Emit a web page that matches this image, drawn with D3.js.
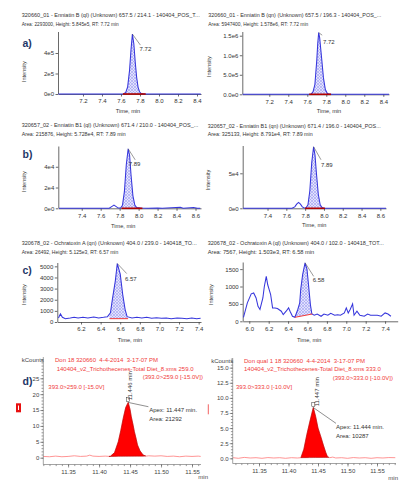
<!DOCTYPE html>
<html>
<head>
<meta charset="utf-8">
<script src="https://cdn.jsdelivr.net/npm/d3@7"></script>
<style>
  body { margin: 0; background: #fff; }
  svg { display: block; font-family: "Liberation Sans", Arial, sans-serif; }
</style>
</head>
<body>
<div id="chart"></div>
<script>
// ---- data: [time (min), intensity] ----
const enniatinB_ql = [[6.94,0],[7.2,0],[7.5,0],[7.61,0],[7.63,2e3],[7.65,1.5e4],[7.67,7e4],[7.69,2.3e5],[7.705,4.3e5],[7.72,5.845e5],[7.735,4.9e5],[7.75,3.1e5],[7.765,1.6e5],[7.78,6.5e4],[7.795,2.2e4],[7.81,6e3],[7.83,1.5e3],[7.86,0],[8.44,0]]
const enniatinB_qn = [[6.92,0],[7.2,0],[7.5,0],[7.62,0],[7.64,8e3],[7.66,6e4],[7.68,2.5e5],[7.70,8.8e5],[7.71,1.3e6],[7.72,1.578e6],[7.73,1.45e6],[7.75,9.5e5],[7.77,4.2e5],[7.79,1.2e5],[7.81,2.5e4],[7.83,4e3],[7.86,0],[8.46,0]]
const enniatinB1_ql = [[7.16,0],[7.4,0],[7.6,0],[7.69,0],[7.72,1.8e3],[7.74,3e3],[7.76,1.8e3],[7.785,200],[7.81,300],[7.83,3e3],[7.85,1.6e4],[7.87,4.2e4],[7.89,5.728e4],[7.905,5.1e4],[7.92,3.2e4],[7.94,1.2e4],[7.96,3e3],[7.98,800],[8.02,200],[8.1,0],[8.2,300],[8.25,0],[8.44,1e3],[8.47,0],[8.58,800],[8.62,0],[8.65,0]]
const enniatinB1_qn = [[7.14,0],[7.4,0],[7.6,0],[7.66,0],[7.69,2e3],[7.71,6e3],[7.73,8.5e3],[7.75,6e3],[7.77,2e3],[7.79,500],[7.81,800],[7.83,5e3],[7.85,2.5e4],[7.87,6.5e4],[7.89,8.791e4],[7.905,7.6e4],[7.92,5e4],[7.94,2e4],[7.96,5e3],[7.98,1e3],[8.0,200],[8.1,0],[8.66,0]]
const ochratoxinA_qn = [[5.97,360],[5.99,730],[6.01,420],[6.04,300],[6.09,360],[6.13,420],[6.17,360],[6.22,420],[6.27,360],[6.33,450],[6.38,360],[6.43,420],[6.47,480],[6.50,820],[6.52,2030],[6.55,3700],[6.57,5250],[6.60,4300],[6.625,2480],[6.65,1120],[6.67,480],[6.72,360],[6.77,420],[6.82,360],[6.87,420],[6.92,330],[6.97,390],[7.02,330],[7.07,360],[7.12,300],[7.18,360],[7.23,330],[7.28,300],[7.33,360],[7.38,300],[7.42,330]]
const ochratoxinA_ql = [[5.94,115],[5.98,530],[6.02,790],[6.045,815],[6.07,670],[6.09,430],[6.11,340],[6.14,670],[6.155,1000],[6.175,1290],[6.19,1050],[6.205,910],[6.22,770],[6.24,385],[6.265,385],[6.29,365],[6.33,290],[6.35,190],[6.38,290],[6.405,385],[6.42,290],[6.445,145],[6.47,115],[6.50,340],[6.52,530],[6.53,910],[6.55,1340],[6.575,1680],[6.595,1490],[6.61,1060],[6.63,480],[6.645,210],[6.67,175],[6.70,210],[6.74,145],[6.77,210],[6.81,175],[6.84,230],[6.88,175],[6.91,190],[6.94,175],[6.98,240],[7.0,385],[7.02,240],[7.04,340],[7.065,500],[7.08,175],[7.11,290],[7.14,175],[7.185,145],[7.22,210],[7.25,175],[7.29,175],[7.32,175],[7.36,145],[7.40,240],[7.43,210],[7.46,145]]
const don259 = [[11.31,0.4],[11.32,0.3],[11.33,0.5],[11.34,0.3],[11.35,0.4],[11.36,0.6],[11.37,0.4],[11.38,0.5],[11.385,0.8],[11.39,0.5],[11.40,0.4],[11.41,0.5],[11.418,0.4],[11.425,1.6],[11.431,5.0],[11.435,8.5],[11.439,12.4],[11.443,15.8],[11.447,17.4],[11.450,15.2],[11.452,12.9],[11.455,10.2],[11.457,8.2],[11.460,5.8],[11.462,4.0],[11.466,2.2],[11.471,0.85],[11.476,0.5],[11.48,0.6],[11.49,0.5],[11.50,0.6],[11.51,0.4],[11.52,0.5],[11.53,0.3],[11.54,0.5],[11.55,0.4],[11.56,0.5],[11.564,0.4]]
const don333 = [[11.306,0.1],[11.315,0.0],[11.325,0.15],[11.335,0.05],[11.345,0.1],[11.355,0.0],[11.365,0.12],[11.375,0.05],[11.385,0.1],[11.395,0.0],[11.405,0.1],[11.415,0.05],[11.421,0.1],[11.426,1.5],[11.431,3.9],[11.436,6.0],[11.442,8.4],[11.446,6.9],[11.45,5.0],[11.455,3.5],[11.459,2.2],[11.463,1.0],[11.466,0.27],[11.47,0.1],[11.475,0.2],[11.48,0.05],[11.49,0.1],[11.5,0.0],[11.51,0.12],[11.52,0.05],[11.53,0.1],[11.54,0.0],[11.55,0.1],[11.56,0.05],[11.57,0.12],[11.581,0.1]]

// integration windows: [[start, baseline], [end, baseline]]
const integA1 = [[7.62,0],[7.86,0]]
const integA2 = [[7.62,0],[7.85,0]]
const integB1 = [[7.82,0],[8.04,0]]
const integB2 = [[7.80,0],[8.01,0]]
const integC1 = [[6.49,300],[6.68,300]]
const integC2 = [[6.47,115],[6.65,210]]
const integD1 = [[11.416,0.4],[11.475,0.5]]
const integD2 = [[11.421,0.1],[11.468,0.15]]

// tick values and labels
const ticksA = [7.2,7.4,7.6,7.8,8.0,8.2,8.4]
const ticksB = [7.4,7.6,7.8,8.0,8.2,8.4,8.6]
const ticksC1 = [6.2,6.4,6.6,6.8,7.0,7.2,7.4]
const ticksC2 = [6.0,6.2,6.4,6.6,6.8,7.0,7.2,7.4]
const ticksD = [11.35,11.40,11.45,11.50,11.55]
const yA1 = [0,2e5,4e5], yA1Labels = ["0e0","2e5","4e5"]
const yA2 = [0,5e5,1e6,1.5e6], yA2Labels = ["0.0e0","5.0e5","1.0e6","1.5e6"]
const yB1 = [0,2e4,4e4], yB1Labels = ["0e0","2e4","4e4"]
const yB2 = [0,5e4], yB2Labels = ["0e0","5e4"]
const yC1 = [0,1000,2000,3000,4000,5000], yC1Labels = ["0","1000","2000","3000","4000","5000"]
const yC2 = [0,500,1000,1500], yC2Labels = ["0","500","1000","1500"]
const yD1 = [0,5,10,15,20,25]
const yD2 = [0,2.5,5,7.5,10,12.5,15]

// header texts
const titleA1 = ["320660_01 - Enniatin B (ql) (Unknown) 657.5 / 214.1 - 140404_POS_T...", "Area: 2293000, Height: 5.845e5, RT: 7.72 min"]
const titleA2 = ["320660_01 - Enniatin B (qn) (Unknown) 657.5 / 196.3 - 140404_POS_...", "Area: 5947400, Height: 1.578e6, RT: 7.72 min"]
const titleB1 = ["320657_02 - Enniatin B1 (ql) (Unknown) 671.4 / 210.0 - 140404_POS_...", "Area: 215876, Height: 5.728e4, RT: 7.89 min"]
const titleB2 = ["320657_02 - Enniatin B1 (qn) (Unknown) 671.4 / 196.0 - 140404_POS...", "Area: 325133, Height: 8.791e4, RT: 7.89 min"]
const titleC1 = ["320678_02 - Ochratoxin A (qn) (Unknown) 404.0 / 239.0 - 140418_TO...", "Area: 26492, Height: 5.125e3, RT: 6.57 min"]
const titleC2 = ["320678_02 - Ochratoxin A (ql) (Unknown) 404.0 / 102.0 - 140418_TOT...", "Area: 7567, Height: 1.503e3, RT: 6.58 min"]
const headD1 = ["Don 18 320660  4-4-2014  3-17-07 PM", "140404_v2_Trichothecenes-Total Diet_8.xms 259.0", "(393.0>259.0 [-15.0V])", "393.0>259.0 [-15.0V]"]
const headD2 = ["Don qual 1 18 320660  4-4-2014  3-17-07 PM", "140404_v2_Trichothecenes-Total Diet_8.xms 333.0", "(393.0>333.0 [-10.0V])", "393.0>333.0 [-10.0V]"]
const apexD1 = ["11.446 min", "Apex: 11.447 min.", "Area: 21292"]
const apexD2 = ["11.447 min", "Apex: 11.444 min.", "Area: 10287"]

const svg = d3.select("#chart").append("svg").attr("width", 402).attr("height", 482)

// light cross-hatch used by the integrated peaks
const defs = svg.append("defs")
const hatch = defs.append("pattern").attr("id", "hatch").attr("patternUnits", "userSpaceOnUse")
  .attr("width", 3).attr("height", 3)
hatch.append("rect").attr("width", 3).attr("height", 3).attr("fill", "#e2e2fc")
hatch.append("path").attr("d", "M0,0L3,3M3,0L0,3").attr("stroke", "#9d9df2").attr("stroke-width", 0.6)

function letter(t, y) {
  svg.append("text").attr("x", 22.5).attr("y", y).attr("font-size", 10.5).attr("font-weight", "bold")
    .attr("fill", "#1f3768").text(t)
}

// chromatograms a) - c)
function chrom(p) {
  const [l, r, t, b] = p.box
  const x = d3.scaleLinear().domain(p.xDomain).range([l, r])
  const y = d3.scaleLinear().domain([0, p.yMax]).range([b, t])
  const g = svg.append("g")

  p.title.forEach((s, i) => g.append("text")
    .attr("x", p.tpos[0]).attr("y", p.tpos[1] + i * 8.8)
    .attr("textLength", p.tlen[i]).attr("lengthAdjust", "spacingAndGlyphs")
    .attr("font-size", 5.6).attr("fill", "#333").text(s))

  g.append("text").attr("transform", `translate(${p.ipos[0]},${p.ipos[1]}) rotate(-90)`)
    .attr("text-anchor", "middle").attr("font-size", 5.6).attr("fill", "#333").text("Intensity")
  g.append("text").attr("x", p.mpos[0]).attr("y", p.mpos[1])
    .attr("text-anchor", "middle").attr("font-size", 5.6).attr("fill", "#333").text("Time, min")

  // integrated area
  const [[t0, b0], [t1, b1]] = p.integ
  const base = d3.scaleLinear().domain([t0, t1]).range([b0, b1])
  const at = d3.scaleLinear().domain(p.data.map(d => d[0])).range(p.data.map(d => d[1]))
  const seg = [[t0, at(t0)], ...p.data.filter(d => d[0] > t0 && d[0] < t1), [t1, at(t1)]]
  g.append("path").datum(seg).attr("fill", "url(#hatch)")
    .attr("d", d3.area().x(d => x(d[0])).y0(d => y(base(d[0]))).y1(d => y(Math.max(d[1], base(d[0])))))

  const xa = g.append("g").attr("transform", `translate(0,${b})`)
    .call(d3.axisBottom(x).tickValues(p.xTicks).tickFormat(d3.format(".1f"))
      .tickSize(2.5).tickSizeOuter(0).tickPadding(2.5))
  const ya = g.append("g").attr("transform", `translate(${l},0)`)
    .call(d3.axisLeft(y).tickValues(p.yTicks).tickFormat((d, i) => p.yLabels[i])
      .tickSize(2.5).tickSizeOuter(0).tickPadding(1.5))
  ;[xa, ya].forEach(a => {
    a.attr("font-size", 6).attr("font-family", null)
    a.selectAll("text").attr("fill", "#333")
    a.selectAll(".domain, .tick line").attr("stroke", "#444").attr("stroke-width", 0.8)
  })
  ya.select(".domain").attr("d", `M0.5,${t}V${b}`)

  g.append("path").datum(p.data).attr("fill", "none").attr("stroke", "#3636dc").attr("stroke-width", 1.05)
    .attr("d", d3.line().x(d => x(d[0])).y(d => y(d[1])))

  g.append("line").attr("x1", x(t0)).attr("y1", y(b0)).attr("x2", x(t1)).attr("y2", y(b1))
    .attr("stroke", p.baseColor).attr("stroke-width", p.baseWidth)

  // apex label with leader
  const apex = p.data.reduce((m, d) => d[1] > m[1] ? d : m)
  const ax = x(apex[0]), ay = y(apex[1])
  g.append("line").attr("x1", ax).attr("y1", ay).attr("x2", ax + p.lab[2]).attr("y2", ay + p.lab[3])
    .attr("stroke", "#555").attr("stroke-width", 0.6)
  g.append("text").attr("x", ax + p.lab[0]).attr("y", ay + p.lab[1])
    .attr("font-size", 6).attr("fill", "#333").text(p.rt)
}

chrom({ data: enniatinB_ql, integ: integA1, box: [58, 201, 32, 94], xDomain: [6.937, 8.442], yMax: 6.05e5,
  xTicks: ticksA, yTicks: yA1, yLabels: yA1Labels, title: titleA1, tpos: [21.7, 17], tlen: [178, 97],
  ipos: [26, 71.7], mpos: [128, 113], rt: "7.72", lab: [7.2, 17, 8, 11], baseColor: "#b00000", baseWidth: 1.6 })
chrom({ data: enniatinB_qn, integ: integA2, box: [242.3, 389, 32, 94.3], xDomain: [6.916, 8.46], yMax: 1.595e6,
  xTicks: ticksA, yTicks: yA2, yLabels: yA2Labels, title: titleA2, tpos: [208.3, 17], tlen: [173, 100],
  ipos: [211, 66.7], mpos: [329, 113], rt: "7.72", lab: [4.2, 11, 3.5, 2.5], baseColor: "#b00000", baseWidth: 1.6 })
chrom({ data: enniatinB1_ql, integ: integB1, box: [58.3, 201, 146.5, 208.3], xDomain: [7.153, 8.658], yMax: 5.95e4,
  xTicks: ticksB, yTicks: yB1, yLabels: yB1Labels, title: titleB1, tpos: [21.7, 127], tlen: [176.6, 104],
  ipos: [26, 181.7], mpos: [123.3, 227.5], rt: "7.89", lab: [0.5, 17.2, 7, 11], baseColor: "#b00000", baseWidth: 1.6 })
chrom({ data: enniatinB1_qn, integ: integB2, box: [242.7, 386, 146, 208.3], xDomain: [7.136, 8.66], yMax: 8.9e4,
  xTicks: ticksB, yTicks: yB2, yLabels: yB2Labels, title: titleB2, tpos: [207.7, 127.5], tlen: [173, 105],
  ipos: [209.5, 180], mpos: [314.3, 227], rt: "7.89", lab: [7.4, 20, 7.4, 13], baseColor: "#b00000", baseWidth: 1.6 })
chrom({ data: ochratoxinA_qn, integ: integC1, box: [57.3, 201, 263, 322], xDomain: [5.958, 7.424], yMax: 5300,
  xTicks: ticksC1, yTicks: yC1, yLabels: yC1Labels, title: titleC1, tpos: [21.7, 245], tlen: [175, 96.6],
  ipos: [26, 294.7], mpos: [130, 341.5], rt: "6.57", lab: [7.7, 17, 9.4, 10], baseColor: "#f23a3a", baseWidth: 1 })
chrom({ data: ochratoxinA_ql, integ: integC2, box: [242.7, 397.7, 262.5, 321.3], xDomain: [5.932, 7.53], yMax: 1690,
  xTicks: ticksC2, yTicks: yC2, yLabels: yC2Labels, title: titleC2, tpos: [207.7, 245], tlen: [176, 106.6],
  ipos: [212.5, 294.7], mpos: [309.3, 342], rt: "6.58", lab: [7.6, 19, 8.6, 13.5], baseColor: "#f23a3a", baseWidth: 1 })

letter("a)", 47)
letter("b)", 158)
letter("c)", 274)
letter("d)", 384.5)

// Varian-style chromatograms d)
function chromD(p) {
  const [l, r, t, zero, axisY] = p.box
  const x = d3.scaleLinear().domain(p.xDomain).range([l, r])
  const y = d3.scaleLinear().domain([0, p.yMax]).range([zero, t])
  const g = svg.append("g")

  p.head.forEach((s, i) => g.append("text").attr("x", p.hpos[i][0]).attr("y", p.hpos[i][1])
    .attr("font-size", 6).attr("fill", "#f03a3a").style("white-space", "pre").text(s))

  // integrated peak
  const [[t0, b0], [t1, b1]] = p.integ
  const base = d3.scaleLinear().domain([t0, t1]).range([b0, b1])
  const at = d3.scaleLinear().domain(p.data.map(d => d[0])).range(p.data.map(d => d[1]))
  const seg = [[t0, at(t0)], ...p.data.filter(d => d[0] > t0 && d[0] < t1), [t1, at(t1)]]
  g.append("path").datum(p.data).attr("fill", "none").attr("stroke", "#ff7a7a").attr("stroke-width", 0.8)
    .attr("d", d3.line().x(d => x(d[0])).y(d => y(d[1])))
  g.append("path").datum(seg).attr("fill", "#ff0000").attr("stroke", "#a00000").attr("stroke-width", 0.5)
    .attr("d", d3.area().x(d => x(d[0])).y0(d => y(base(d[0]))).y1(d => y(Math.max(d[1], base(d[0])))))

  // axes
  const ya = g.append("g").attr("transform", `translate(${l},0)`)
    .call(d3.axisLeft(y).tickValues(p.yTicks).tickFormat(d3.format(p.yFmt)).tickSize(3).tickSizeOuter(0).tickPadding(1))
  const ym = g.append("g").attr("transform", `translate(${l},0)`)
    .call(d3.axisLeft(y).tickValues(d3.range(0, p.yMax, p.yMinor)).tickFormat("").tickSize(1.8).tickSizeOuter(0))
  const xa = g.append("g").attr("transform", `translate(0,${axisY})`)
    .call(d3.axisBottom(x).tickValues(p.xTicks).tickFormat(d3.format(".2f")).tickSize(3).tickSizeOuter(0).tickPadding(2.5))
  const xm = g.append("g").attr("transform", `translate(0,${axisY})`)
    .call(d3.axisBottom(x).tickValues(d3.range(11.31, p.xDomain[1], 0.01)).tickFormat("").tickSize(1.6).tickSizeOuter(0))
  ;[ya, ym, xa, xm].forEach(a => {
    a.attr("font-size", 6).attr("font-family", null)
    a.selectAll("text").attr("fill", "#444")
    a.selectAll(".domain").remove()
    a.selectAll(".tick line").attr("stroke", "#555").attr("stroke-width", 0.6)
  })
  g.append("line").attr("x1", l).attr("x2", l).attr("y1", t).attr("y2", axisY).attr("stroke", "#666").attr("stroke-width", 0.6)
  g.append("line").attr("x1", l).attr("x2", r).attr("y1", axisY).attr("y2", axisY).attr("stroke", "#666").attr("stroke-width", 0.6)

  g.append("text").attr("x", l + 0.5).attr("y", t + 5).attr("text-anchor", "end")
    .attr("font-size", 6).attr("fill", "#444").text("kCounts")
  g.append("text").attr("x", p.minPos[0]).attr("y", p.minPos[1]).attr("font-size", 6).attr("fill", "#444").text("min")

  // apex annotation
  const apex = p.data.reduce((m, d) => d[1] > m[1] ? d : m)
  const ax = x(apex[0]), ay = y(apex[1])
  g.append("rect").attr("x", ax - 1.5).attr("y", ay - 5).attr("width", 3).attr("height", 4)
    .attr("fill", "none").attr("stroke", "#333").attr("stroke-width", 0.5)
  g.append("text").attr("transform", `translate(${ax + p.vlab[0]},${ay + p.vlab[1]}) rotate(-90)`)
    .attr("text-anchor", "middle").attr("font-size", 6).attr("fill", "#333").text(p.apexText[0])
  g.append("line").attr("x1", ax).attr("y1", ay).attr("x2", ax + p.lead[0]).attr("y2", ay + p.lead[1])
    .attr("stroke", "#444").attr("stroke-width", 0.6)
  g.append("text").attr("x", ax + p.lab[0]).attr("y", ay + p.lab[1]).attr("font-size", 6).attr("fill", "#333").text(p.apexText[1])
  g.append("text").attr("x", ax + p.lab[0]).attr("y", ay + p.lab[1] + 9).attr("font-size", 6).attr("fill", "#333").text(p.apexText[2])
}

chromD({ data: don259, integ: integD1, box: [43.3, 201, 357, 457.7, 464.5], xDomain: [11.31, 11.5645], yMax: 31.7,
  xTicks: ticksD, yTicks: yD1, yFmt: "d", yMinor: 1, head: headD1,
  hpos: [[55, 362], [56.7, 371], [142.7, 379.3], [48.3, 388.7]], minPos: [198.3, 479],
  apexText: apexD1, vlab: [3.5, -16.7], lead: [20.2, 4.3], lab: [21, 9.6] })
chromD({ data: don333, integ: integD2, box: [232.7, 396, 358, 458.3, 463.5], xDomain: [11.3054, 11.5822], yMax: 16.6,
  xTicks: ticksD, yTicks: yD2, yFmt: ".1f", yMinor: 0.5, head: headD2,
  hpos: [[244, 363], [244, 371.3], [332.7, 380.3], [236, 389.3]], minPos: [388.3, 480],
  apexText: apexD2, vlab: [6, -15.8], lead: [22.7, 15.8], lab: [22.7, 21.2] })

// small marks at the left edges of the d) panels
svg.append("rect").attr("x", 16).attr("y", 403.3).attr("width", 5).attr("height", 9).attr("fill", "#e81010")
svg.append("rect").attr("x", 18).attr("y", 405.5).attr("width", 1).attr("height", 4.5).attr("fill", "#fff")
svg.append("line").attr("x1", 208.3).attr("x2", 208.3).attr("y1", 404.3).attr("y2", 414.3).attr("stroke", "#f03a3a").attr("stroke-width", 0.8)
</script>
</body>
</html>
